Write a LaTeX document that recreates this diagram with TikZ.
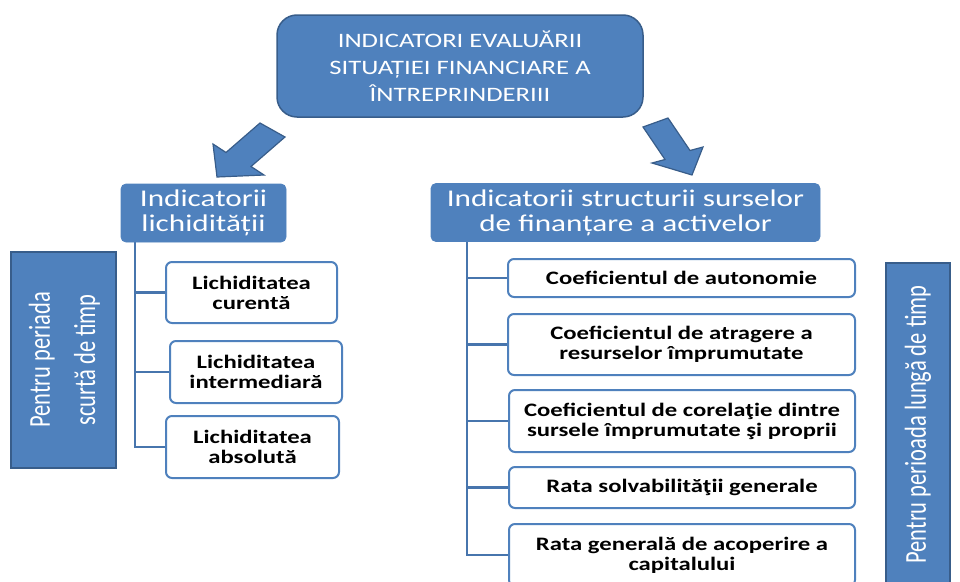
\documentclass[tikz,border=0pt]{standalone}
\usepackage{fontspec}
\usepackage{graphicx}
\setmainfont{Carlito}[FakeStretch=1.3]
\newfontfamily\rotfont{Carlito}
\usetikzlibrary{backgrounds}
\definecolor{blu}{HTML}{4F81BD}
\definecolor{blud}{HTML}{385D8A}
\definecolor{connc}{HTML}{4775AD}
\tikzset{
  topbox/.style={draw=blud, line width=1.5pt, fill=blu, rounded corners=20pt,
    minimum width=366pt, minimum height=102pt, text=white, align=center,
    font=\fontsize{20.5}{27}\selectfont, inner sep=0pt},
  headbox/.style={fill=blu, draw=blu, line width=0.8pt, rounded corners=5pt, text=white,
    align=center, font=\fontsize{24}{25}\selectfont, inner sep=0pt, minimum height=58pt},
  leafbox/.style={draw=blu, line width=2pt, fill=white, rounded corners=6pt,
    align=center, font=\bfseries\fontsize{19}{20}\selectfont, inner sep=0pt},
  sidebox/.style={draw=blud, line width=1.5pt, fill=blu, text=white, inner sep=0pt},
  connline/.style={draw=connc, line width=2.5pt},
  bigarrow/.style={fill=blu, draw=blud, line width=1.2pt, line join=miter}
}
\begin{document}
\begin{tikzpicture}[x=1pt,y=-1pt]
\clip (0,0) rectangle (960,581);

% top box
\node[topbox] (top) at (460,66) {INDICATORI EVALUĂRII\\SITUAȚIEI FINANCIARE A\\ÎNTREPRINDERIII};

% big arrows
\draw[bigarrow] (260,123) -- (226,152.5) -- (213,144) -- (217,177) -- (264,175) -- (251,166.5) -- (285,137) -- cycle;
\draw[bigarrow] (643,127) -- (665,159.5) -- (652,163) -- (692,175) -- (703,147) -- (690,150.5) -- (668,118) -- cycle;

% heading boxes
\node[headbox, minimum width=165pt] (lh) at (203.5,213) {Indicatorii\\lichidității};
\node[headbox, minimum width=389pt] (rh) at (625.5,212.5) {Indicatorii structurii surselor\\de finanțare a activelor};

% left leaves
\node[leafbox, minimum width=171pt, minimum height=61pt] (l1) at (251.5,292.5) {Lichiditatea\\curentă};
\node[leafbox, minimum width=172pt, minimum height=62pt] (l2) at (256,372) {Lichiditatea\\intermediară};
\node[leafbox, minimum width=173pt, minimum height=62pt] (l3) at (252.5,447) {Lichiditatea\\absolută};

% right leaves
\node[leafbox, minimum width=347pt, minimum height=38pt] (r1) at (681.5,278) {Coeficientul de autonomie};
\node[leafbox, minimum width=347pt, minimum height=61pt] (r2) at (681.5,344.5) {Coeficientul de atragere a\\resurselor împrumutate};
\node[leafbox, minimum width=346pt, minimum height=62pt] (r3) at (682,421) {Coeficientul de corelaţie dintre\\sursele împrumutate şi proprii};
\node[leafbox, minimum width=346pt, minimum height=41pt] (r4) at (682,487.5) {Rata solvabilităţii generale};
\node[leafbox, minimum width=346pt, minimum height=62pt] (r5) at (682,555) {Rata generală de acoperire a\\capitalului};

% side boxes
\node[sidebox, minimum width=105pt, minimum height=216pt] (sl) at (63.5,360)
  {\rotatebox{90}{\scalebox{1}[1.35]{\rotfont\fontsize{22.5}{33.5}\selectfont\begin{tabular}{@{}c@{}}Pentru periada\\scurtă de timp\end{tabular}}}};
\node[sidebox, minimum width=64pt, minimum height=323pt] (sr) at (918,424.5)
  {\rotatebox{90}{\scalebox{1}[1.35]{\rotfont\fontsize{22.5}{27}\selectfont Pentru perioada lungă de timp}}};

% connectors
\coordinate (tl) at (135,242);
\coordinate (tr) at (467,242);
\begin{scope}[on background layer]
\draw[connline] (lh.south -| tl) |- (l3.west);
\draw[connline] (tl |- l1.west) -- (l1.west);
\draw[connline] (tl |- l2.west) -- (l2.west);
\draw[connline] (rh.south -| tr) |- (r5.west);
\draw[connline] (tr |- r1.west) -- (r1.west);
\draw[connline] (tr |- r2.west) -- (r2.west);
\draw[connline] (tr |- r3.west) -- (r3.west);
\draw[connline] (tr |- r4.west) -- (r4.west);
\end{scope}
\end{tikzpicture}
\end{document}
